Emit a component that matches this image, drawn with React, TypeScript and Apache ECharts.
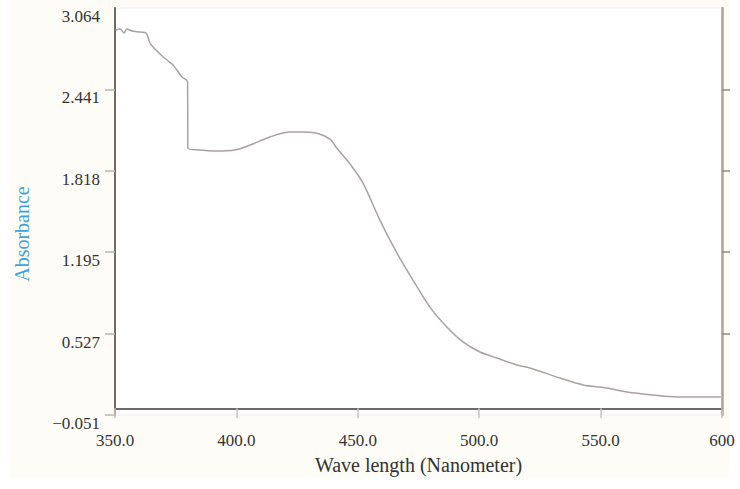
import React, { useEffect, useRef } from "react";
import * as echarts from "echarts";

const wavelengths = [
  350.2, 352.1, 353.7, 354.9, 357.0, 360.3, 362.8, 364.4, 365.7, 367.3, 369.4, 371.4,
  373.9, 375.5, 377.6, 379.9, 380.0, 385.0, 391.2, 399.4, 405.6, 413.8, 422.1, 426.2,
  433.2, 438.5, 441.4, 446.8, 452.1, 459.1, 466.1, 472.7, 479.7, 486.7, 493.3, 500.3,
  507.3, 515.6, 520.9, 533.3, 542.8, 552.6, 560.9, 571.6, 581.5, 591.0, 599.5,
];
const absorbance = [
  2.896, 2.903, 2.873, 2.903, 2.888, 2.88, 2.873, 2.796, 2.766, 2.735, 2.697, 2.666,
  2.628, 2.589, 2.536, 2.498, 1.993, 1.977, 1.969, 1.977, 2.015, 2.077, 2.115, 2.115,
  2.105, 2.06, 1.99, 1.87, 1.725, 1.441, 1.189, 0.982, 0.775, 0.622, 0.508, 0.431,
  0.385, 0.332, 0.309, 0.232, 0.179, 0.156, 0.125, 0.102, 0.087, 0.087, 0.087,
];

const yTickValues = [-0.051, 0.572, 1.195, 1.818, 2.441, 3.064];
const yTickLabels = ["\u22120.051", "0.527", "1.195", "1.818", "2.441", "3.064"];
const xTickValues = [350, 400, 450, 500, 550, 600];
const xTickLabels = ["350.0", "400.0", "450.0", "500.0", "550.0", "600"];

const SERIF = "'Liberation Serif', 'DejaVu Serif', serif";

export default function App() {
  const ref = useRef<HTMLDivElement>(null);
  useEffect(() => {
    document.body.style.margin = "0";
    if (!ref.current) return;
    const chart = echarts.init(ref.current, undefined, { renderer: "svg" });
    const data = wavelengths.map((w, i) => [w, absorbance[i]]);
    chart.setOption({
      animation: false,
      backgroundColor: "#ffffff",
      graphic: [
        {
          type: "rect",
          z: -10,
          silent: true,
          shape: { x: 10, y: 0, width: 720, height: 478 },
          style: { fill: "#fdfcf6" },
        },
        {
          type: "text",
          x: 22,
          y: 234,
          rotation: Math.PI / 2,
          silent: true,
          style: {
            text: "Absorbance",
            fontFamily: SERIF,
            fontSize: 20,
            fill: "#3ea3dc",
            align: "center",
            verticalAlign: "middle",
          },
        },
      ],
      grid: {
        left: 115,
        right: 18,
        top: 8,
        bottom: 74,
        show: true,
        backgroundColor: "#ffffff",
        borderColor: "#eeeeee",
        borderWidth: 1,
      },
      xAxis: {
        type: "value",
        min: 350,
        max: 600,
        interval: 50,
        name: "Wave length (Nanometer)",
        nameLocation: "middle",
        nameGap: 40,
        nameTextStyle: { fontFamily: SERIF, fontSize: 20, color: "#333333" },
        axisLine: { show: true, lineStyle: { color: "#6f6a67", width: 2 } },
        axisTick: { show: true, inside: false, length: 10, lineStyle: { color: "#c8c4c0", width: 1.5 } },
        axisLabel: {
          margin: 17,
          fontFamily: SERIF,
          fontSize: 17,
          color: "#333333",
          formatter: (v: number) => {
            const i = xTickValues.indexOf(v);
            return i >= 0 ? xTickLabels[i] : "";
          },
        },
        splitLine: { show: false },
      },
      yAxis: [
        {
          type: "value",
          min: -0.051,
          max: 3.064,
          position: "left",
          axisLine: { show: true, lineStyle: { color: "#6f6a67", width: 2 } },
          axisTick: {
            show: true,
            inside: false,
            length: 10,
            customValues: yTickValues.slice(0, 5),
            lineStyle: { color: "#b8b4b0", width: 1.5 },
          },
          axisLabel: {
            margin: 15,
            fontFamily: SERIF,
            fontSize: 17,
            color: "#333333",
            verticalAlign: "top",
            customValues: yTickValues,
            formatter: (v: number) => {
              let best = 0;
              yTickValues.forEach((t, i) => {
                if (Math.abs(t - v) < Math.abs(yTickValues[best] - v)) best = i;
              });
              return yTickLabels[best];
            },
          },
          splitLine: { show: false },
        },
        {
          type: "value",
          min: -0.051,
          max: 3.064,
          position: "right",
          axisLine: { show: true, lineStyle: { color: "#a9a3a0", width: 2.5 } },
          axisTick: {
            show: true,
            inside: false,
            length: 8,
            customValues: yTickValues.slice(1, 5),
            lineStyle: { color: "#8f8a87", width: 1.5 },
          },
          axisLabel: { show: false },
          splitLine: { show: false },
        },
      ],
      series: [
        {
          type: "line",
          data,
          showSymbol: false,
          symbol: "none",
          smooth: 0.3,
          lineStyle: { color: "#a9a29e", width: 1.5 },
        },
      ],
    });
    return () => chart.dispose();
  }, []);
  return <div ref={ref} style={{ width: 740, height: 489 }} />;
}
